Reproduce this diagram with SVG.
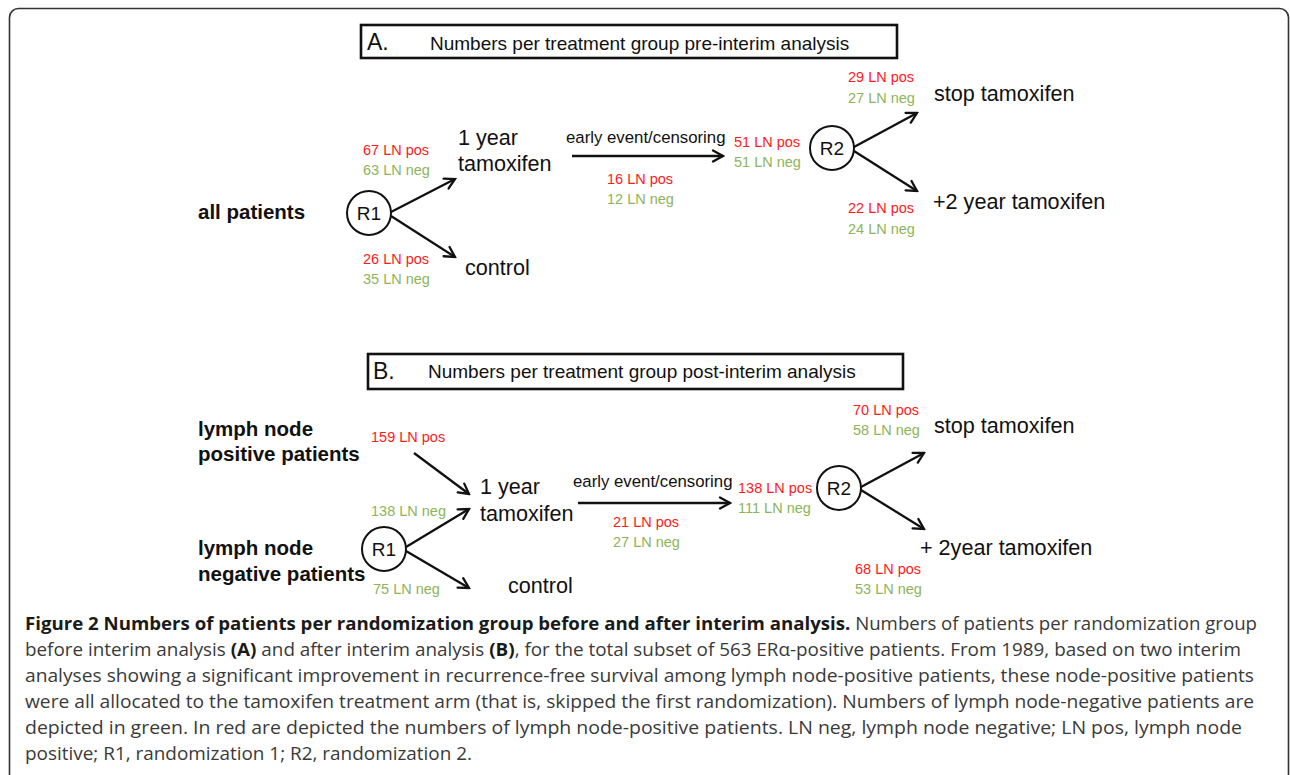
<svg xmlns="http://www.w3.org/2000/svg" width="1290" height="775" viewBox="0 0 1290 775">
<defs>
<style>
.t{font-family:"Liberation Sans",Arial,sans-serif;fill:#111}
.node{font-size:21.6px}
.hdr{font-size:19px}
.let{font-size:23px}
.bold{font-size:20.5px;font-weight:bold}
.ev{font-size:16.8px}
.rr{font-size:19px;text-anchor:middle}
.pos{font-family:"Liberation Sans",Arial,sans-serif;font-size:14.5px;fill:#ff1a1a}
.neg{font-family:"Liberation Sans",Arial,sans-serif;font-size:14.5px;fill:#8db45a}
.box{fill:none;stroke:#111;stroke-width:2.6}
.circ{fill:none;stroke:#111;stroke-width:2}
.arr{fill:none;stroke:#111;stroke-width:2.3;marker-end:url(#ah)}
.cap{font-family:"Open Sans","Liberation Sans",sans-serif;font-size:17.5px;fill:#3a3a3a}
.cap .b{font-weight:bold;fill:#1a1a1a}
</style>
<marker id="ah" markerUnits="userSpaceOnUse" viewBox="-12 -7 14 14" refX="0" refY="0" markerWidth="14" markerHeight="14" orient="auto">
<path d="M-10,-5.5 L0,0 L-10,5.5" fill="none" stroke="#111" stroke-width="2.3" stroke-linecap="round" stroke-linejoin="miter"/>
</marker>
</defs>
<rect x="9.5" y="8.5" width="1279" height="800" rx="9" fill="#fff" stroke="#333" stroke-width="1.6"/>

<g id="panelA">
<g id="boxA"><rect class="box" x="361" y="25" width="536" height="33"/>
<text class="t let" x="367" y="50">A.</text>
<text class="t hdr" x="430" y="50">Numbers per treatment group pre-interim analysis</text></g>
<g id="A_all"><text class="t bold" x="198" y="219">all patients</text></g>
<g id="A_R1"><circle class="circ" cx="369" cy="213" r="22"/><text class="t rr" x="369" y="220">R1</text></g>
<g id="A_tam"><text class="t node" x="458" y="145">1 year</text><text class="t node" x="458" y="171">tamoxifen</text></g>
<g id="A_ctrl"><text class="t node" x="465" y="275">control</text></g>
<g id="A_R2"><circle class="circ" cx="832" cy="148" r="22"/><text class="t rr" x="832" y="155">R2</text></g>
<g id="A_stop"><text class="t node" x="934" y="101">stop tamoxifen</text></g>
<g id="A_plus"><text class="t node" x="933" y="209">+2 year tamoxifen</text></g>
<g id="A_labels">
<text class="pos" x="363" y="155">67 LN pos</text><text class="neg" x="363" y="175">63 LN neg</text>
<text class="pos" x="363" y="264">26 LN pos</text><text class="neg" x="363" y="284">35 LN neg</text>
<text class="t ev" x="566" y="143">early event/censoring</text>
<text class="pos" x="607" y="184">16 LN pos</text><text class="neg" x="607" y="204">12 LN neg</text>
<text class="pos" x="734" y="147">51 LN pos</text><text class="neg" x="734" y="167">51 LN neg</text>
<text class="pos" x="848" y="82">29 LN pos</text><text class="neg" x="848" y="103">27 LN neg</text>
<text class="pos" x="848" y="213">22 LN pos</text><text class="neg" x="848" y="234">24 LN neg</text>
</g>
</g>

<g id="panelB">
<g id="boxB"><rect class="box" x="368" y="354" width="535" height="35"/>
<text class="t let" x="373" y="379">B.</text>
<text class="t hdr" x="428" y="378">Numbers per treatment group post-interim analysis</text></g>
<g id="B_pos"><text class="t bold" x="198" y="436">lymph node</text><text class="t bold" x="198" y="461">positive patients</text></g>
<g id="B_neg"><text class="t bold" x="198" y="555">lymph node</text><text class="t bold" x="198" y="581">negative patients</text></g>
<g id="B_R1"><circle class="circ" cx="384" cy="549" r="22"/><text class="t rr" x="384" y="556">R1</text></g>
<g id="B_tam"><text class="t node" x="480" y="494">1 year</text><text class="t node" x="480" y="521">tamoxifen</text></g>
<g id="B_ctrl"><text class="t node" x="508" y="593">control</text></g>
<g id="B_R2"><circle class="circ" cx="839" cy="488" r="22"/><text class="t rr" x="839" y="495">R2</text></g>
<g id="B_stop"><text class="t node" x="934" y="433">stop tamoxifen</text></g>
<g id="B_plus"><text class="t node" x="920" y="555">+ 2year tamoxifen</text></g>
<g id="B_labels">
<text class="pos" x="371" y="442">159 LN pos</text>
<text class="neg" x="371" y="516">138 LN neg</text>
<text class="neg" x="373" y="594">75 LN neg</text>
<text class="t ev" x="573" y="487">early event/censoring</text>
<text class="pos" x="613" y="527">21 LN pos</text><text class="neg" x="613" y="547">27 LN neg</text>
<text class="pos" x="738" y="493">138 LN pos</text><text class="neg" x="738" y="513">111 LN neg</text>
<text class="pos" x="853" y="415">70 LN pos</text><text class="neg" x="853" y="435">58 LN neg</text>
<text class="pos" x="855" y="574">68 LN pos</text><text class="neg" x="855" y="594">53 LN neg</text>
</g>
</g>

<g id="connectors">
<line class="arr" x1="391" y1="212" x2="455" y2="179"/>
<line class="arr" x1="391" y1="216" x2="455" y2="257"/>
<line class="arr" x1="572" y1="156" x2="723" y2="156"/>
<line class="arr" x1="854" y1="147" x2="917" y2="113"/>
<line class="arr" x1="854" y1="151" x2="917" y2="191"/>
<line class="arr" x1="414" y1="453" x2="469" y2="494"/>
<line class="arr" x1="406" y1="547" x2="469" y2="509"/>
<line class="arr" x1="406" y1="551" x2="469" y2="588"/>
<line class="arr" x1="578" y1="503" x2="730" y2="503"/>
<line class="arr" x1="861" y1="487" x2="924" y2="453"/>
<line class="arr" x1="861" y1="490" x2="924" y2="529"/>
</g>

<g id="caption" class="cap">
<text x="25" y="630" textLength="1232" lengthAdjust="spacingAndGlyphs"><tspan class="b">Figure 2 Numbers of patients per randomization group before and after interim analysis.</tspan> Numbers of patients per randomization group</text>
<text x="25" y="656" textLength="1216" lengthAdjust="spacingAndGlyphs">before interim analysis <tspan class="b">(A)</tspan> and after interim analysis <tspan class="b">(B)</tspan>, for the total subset of 563 ERα-positive patients. From 1989, based on two interim</text>
<text x="25" y="682" textLength="1229" lengthAdjust="spacingAndGlyphs">analyses showing a significant improvement in recurrence-free survival among lymph node-positive patients, these node-positive patients</text>
<text x="25" y="708" textLength="1229" lengthAdjust="spacingAndGlyphs">were all allocated to the tamoxifen treatment arm (that is, skipped the first randomization). Numbers of lymph node-negative patients are</text>
<text x="25" y="734" textLength="1217" lengthAdjust="spacingAndGlyphs">depicted in green. In red are depicted the numbers of lymph node-positive patients. LN neg, lymph node negative; LN pos, lymph node</text>
<text x="25" y="760" textLength="447" lengthAdjust="spacingAndGlyphs">positive; R1, randomization 1; R2, randomization 2.</text>
</g>
</svg>
